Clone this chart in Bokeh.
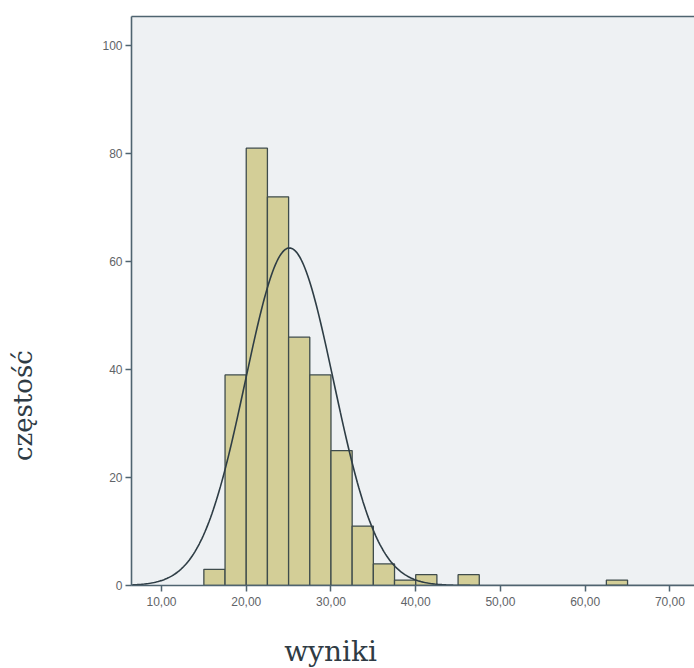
import numpy as np
from bokeh.plotting import figure
from bokeh.layouts import row, column
from bokeh.models import Range1d, FixedTicker, LinearAxis, ColumnDataSource
from bokeh.core.properties import value
from bokeh.embed import file_html
from bokeh.resources import INLINE

# ---- data ----
bin_left = [15.0, 17.5, 20.0, 22.5, 25.0, 27.5, 30.0, 32.5, 35.0, 37.5, 40.0, 45.0, 62.5]
counts = [3, 39, 81, 72, 46, 39, 25, 11, 4, 1, 2, 2, 1]
bin_width = 2.5
x_ticks = [10, 20, 30, 40, 50, 60, 70]
x_tick_labels = ["10,00", "20,00", "30,00", "40,00", "50,00", "60,00", "70,00"]
y_ticks = [0, 20, 40, 60, 80, 100]
x_title = "wyniki"
y_title = "częstość"
# fitted normal curve parameters (SPSS-style overlay)
curve_mean = 25.1
curve_sd = 5.2
n_total = sum(counts)

x_min, x_max = 6.46, 72.9
y_min, y_max = 0, 105.4

LEFT_W = 60
BOTTOM_H = 48
TOTAL_W, TOTAL_H = 694, 668
MAIN_W = TOTAL_W - LEFT_W
MAIN_H = TOTAL_H - BOTTOM_H

p = figure(width=MAIN_W, height=MAIN_H, output_backend="svg", toolbar_location=None,
           x_range=Range1d(x_min, x_max), y_range=Range1d(y_min, y_max),
           min_border_left=131 - LEFT_W, min_border_right=0, min_border_top=16,
           min_border_bottom=MAIN_H - 585,
           background_fill_color="#eef1f3", border_fill_color="white")
p.outline_line_color = None
p.grid.visible = False

src = ColumnDataSource(dict(left=bin_left,
                            right=[b + bin_width for b in bin_left],
                            top=counts,
                            bottom=[0] * len(counts)))
p.quad(left="left", right="right", top="top", bottom="bottom", source=src,
       fill_color="#d3ce97", line_color="#3f4c4c", line_width=1.3)

xs = np.linspace(x_min, x_max, 400)
ys = n_total * bin_width / (curve_sd * np.sqrt(2 * np.pi)) * np.exp(-0.5 * ((xs - curve_mean) / curve_sd) ** 2)
p.line(xs, ys, line_color="#2e3d45", line_width=1.6)

axis_col = "#4f6470"
for ax in (p.xaxis[0], p.yaxis[0]):
    ax.axis_line_color = axis_col
    ax.axis_line_width = 1.6
    ax.major_tick_line_color = axis_col
    ax.major_tick_line_width = 1.5
    ax.major_tick_out = 6
    ax.major_tick_in = 0
    ax.minor_tick_line_color = None
    ax.major_label_text_font = "Liberation Sans"
    ax.major_label_text_font_size = "12px"
    ax.major_label_text_color = "#5f6468"

p.xaxis.ticker = FixedTicker(ticks=x_ticks)
p.xaxis.major_label_overrides = {t: l for t, l in zip(x_ticks, x_tick_labels)}
p.xaxis.major_label_standoff = 5
p.yaxis.ticker = FixedTicker(ticks=y_ticks)
p.yaxis.major_label_standoff = 3

top_axis = LinearAxis(axis_line_color=axis_col, axis_line_width=1.6,
                      major_tick_line_color=None, minor_tick_line_color=None,
                      major_label_text_font_size="0px", ticker=FixedTicker(ticks=[]))
p.add_layout(top_axis, "above")


def blank(w, h):
    f = figure(width=w, height=h, output_backend="svg", toolbar_location=None,
               x_range=Range1d(0, w), y_range=Range1d(h, 0),
               x_axis_type=None, y_axis_type=None, min_border=0,
               background_fill_color="white", border_fill_color="white")
    f.outline_line_color = None
    f.grid.visible = False
    return f


left_fig = blank(LEFT_W, MAIN_H)
left_fig.text(x=[22], y=[424], text=[y_title], angle=np.pi / 2,
              text_align="center", text_baseline="middle",
              text_font=value("DejaVu Serif"), text_font_size="26px", text_color="#2f3b44")

bottom_fig = blank(TOTAL_W, BOTTOM_H)
bottom_fig.text(x=[330], y=[651 - MAIN_H], text=[x_title],
                text_align="center", text_baseline="middle",
                text_font=value("DejaVu Serif"), text_font_size="28px", text_color="#2f3b44")

layout = column(row(left_fig, p), bottom_fig)
open("out.html", "w").write(file_html(layout, INLINE))
